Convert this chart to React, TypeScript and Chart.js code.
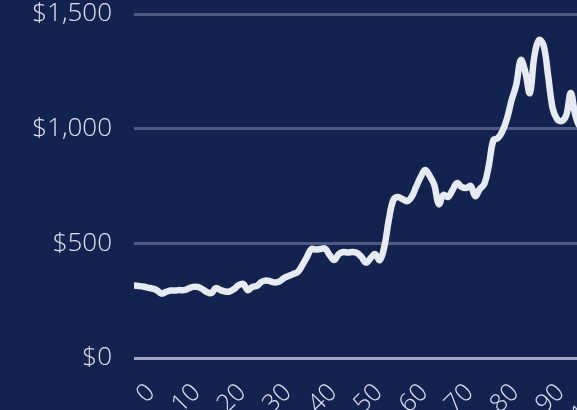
import React, { useEffect, useRef } from "react";
import { Chart, registerables } from "chart.js";

Chart.register(...registerables);

const xValues: number[] = Array.from({ length: 101 }, (_, i) => i);
const prices: number[] = [
  316, 314, 312, 307, 303, 296, 281, 288, 294, 294,
  296, 296, 303, 310, 310, 301, 288, 283, 305, 296,
  290, 290, 301, 318, 323, 296, 310, 314, 331, 338,
  334, 329, 334, 349, 358, 366, 375, 405, 440, 475,
  473, 475, 477, 449, 427, 453, 462, 460, 462, 458,
  440, 416, 436, 453, 427, 484, 602, 689, 702, 693,
  684, 702, 746, 789, 820, 794, 754, 671, 711, 702,
  732, 763, 746, 741, 750, 706, 737, 759, 841, 950,
  959, 990, 1046, 1125, 1190, 1299, 1247, 1155, 1317, 1386,
  1365, 1234, 1090, 1042, 1033, 1059, 1155, 1059, 1010, 1025,
  1040,
];
const yTicks: number[] = [0, 500, 1000, 1500];

const BG = "#13234f";
const LINE = "#e6ebf3";
const GRID = "#4f5b82";
const ZERO = "#a2a9bf";
const TEXT = "#dfe3ec";

const W = 640;
const H = 440;

export default function App() {
  const ref = useRef<HTMLCanvasElement | null>(null);

  useEffect(() => {
    document.body.style.margin = "0";
    document.body.style.overflow = "hidden";
    const canvas = ref.current;
    if (!canvas) return;
    const chart = new Chart(canvas, {
      type: "line",
      data: {
        datasets: [
          {
            data: xValues.map((x, i) => ({ x, y: prices[i] })),
            borderColor: LINE,
            borderWidth: 6.5,
            pointRadius: 0,
            tension: 0.4,
            borderCapStyle: "round",
            borderJoinStyle: "round",
            fill: false,
          },
        ],
      },
      options: {
        animation: false,
        responsive: false,
        maintainAspectRatio: false,
        devicePixelRatio: 1,
        layout: { padding: { left: 0, top: 14, right: W - 589, bottom: 0 } },
        plugins: { legend: { display: false }, tooltip: { enabled: false } },
        scales: {
          x: {
            type: "linear",
            min: 0,
            max: 100,
            grid: { display: false, drawTicks: false },
            border: { display: false },
            afterFit: (s: any) => {
              s.height = H - 358;
              s.paddingLeft = 0;
              s.paddingRight = 0;
            },
            ticks: {
              stepSize: 10,
              autoSkip: false,
              maxRotation: 45,
              minRotation: 45,
              labelOffset: 17,
              padding: 20,
              color: TEXT,
              font: { family: "'Open Sans'", size: 25, weight: "300" },
            },
          },
          y: {
            min: 0,
            max: 1500,
            afterFit: (s: any) => {
              s.width = 134;
              s.paddingTop = 0;
              s.paddingBottom = 0;
            },
            afterBuildTicks: (s: any) => {
              s.ticks = yTicks.map((v) => ({ value: v }));
            },
            grid: {
              drawTicks: false,
              lineWidth: 3,
              color: (c: any) => (c.tick && c.tick.value === 0 ? ZERO : GRID),
            },
            border: { display: false },
            ticks: {
              padding: 22,
              color: TEXT,
              font: { family: "'Open Sans'", size: 26, weight: "300" },
              callback: (v: any) => "$" + Number(v).toLocaleString("en-US"),
            },
          },
        },
      },
      plugins: [
        {
          id: "bg",
          beforeDraw: (c: any) => {
            const ctx = c.ctx;
            ctx.save();
            ctx.fillStyle = BG;
            ctx.fillRect(0, 0, c.width, c.height);
            ctx.restore();
          },
        },
      ],
    });
    return () => chart.destroy();
  }, []);

  return (
    <div
      style={{
        position: "fixed",
        left: 0,
        top: 0,
        width: 577,
        height: 410,
        overflow: "hidden",
        background: BG,
      }}
    >
      <canvas ref={ref} width={W} height={H} style={{ width: W, height: H, display: "block" }} />
    </div>
  );
}
